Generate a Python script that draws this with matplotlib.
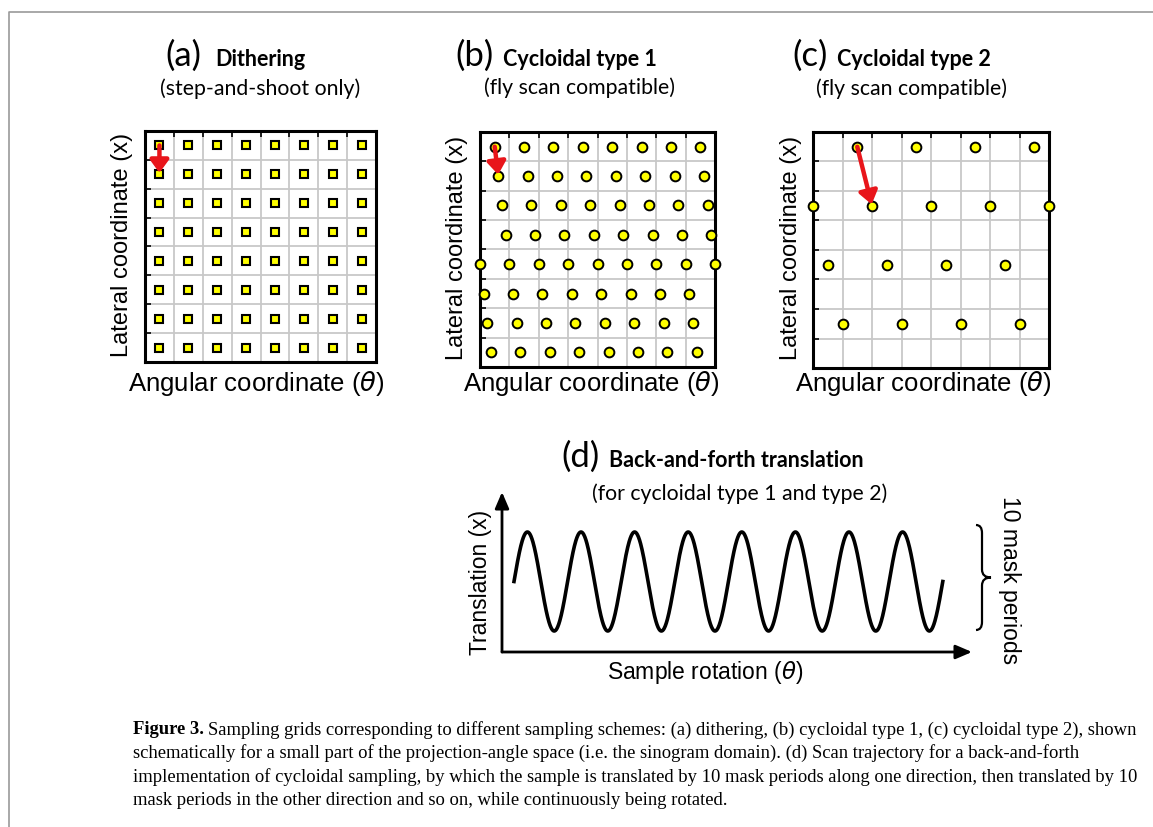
import numpy as np
import matplotlib
matplotlib.use("Agg")
import matplotlib.pyplot as plt
from matplotlib.path import Path
from matplotlib.patches import PathPatch

# ---- data (grid units, 8 x 8 cells) ----
n_cells = 8
dither_x = [0.5, 1.5, 2.5, 3.5, 4.5, 5.5, 6.5, 7.5]
dither_y = [0.5, 1.5, 2.5, 3.5, 4.5, 5.5, 6.5, 7.5]

cyc1_rows = [7.5, 6.5, 5.5, 4.5, 3.5, 2.5, 1.5, 0.5]
cyc1_offsets = [0.5, 0.625, 0.75, 0.875, 0.0, 0.125, 0.25, 0.375]

cyc2_rows = [7.5, 5.5, 3.5, 1.5]
cyc2_offsets = [1.5, 0.0, 0.5, 1.0]
cyc2_step = 2

arrow_a = [(0.5, 7.5), (0.5, 6.5)]
arrow_b = [(0.5, 7.5), (0.625, 6.5)]
arrow_c = [(1.5, 7.5), (2.0, 5.5)]

n_periods = 8          # oscillations drawn in panel (d)
mask_periods = 10

W, H = 1153, 827
fig = plt.figure(figsize=(W / 100, H / 100), dpi=100)
plt.rcParams['font.family'] = ['Liberation Sans', 'DejaVu Sans']

title_font = ['Lato', 'DejaVu Sans']
red = '#e8151b'


def px_axes(left, top, w, h):
    return fig.add_axes([left / W, 1 - (top + h) / H, w / W, h / H])


def grid_panel(ax):
    ax.set_xlim(0, n_cells)
    ax.set_ylim(0, n_cells)
    ax.set_xticks(range(n_cells + 1))
    ax.set_yticks(range(n_cells + 1))
    ax.grid(True, color='#c8c8c8', lw=1.3)
    ax.set_axisbelow(True)
    ax.tick_params(direction='in', length=4, width=1.2, labelleft=False,
                   labelbottom=False, bottom=False, top=True, left=True)
    for s in ax.spines.values():
        s.set_linewidth(2.2)


def red_arrow(ax, pts):
    (x0, y0), (x1, y1) = pts
    ax.annotate('', xy=(x1, y1), xytext=(x0, y0),
                arrowprops=dict(arrowstyle='-|>,head_width=0.4,head_length=0.55',
                                color=red, lw=3.2, shrinkA=0, shrinkB=1,
                                mutation_scale=14), zorder=5)


# ---- panel (a) ----
axa = px_axes(145, 131, 231, 231)
grid_panel(axa)
xx, yy = np.meshgrid(dither_x, dither_y)
axa.plot(xx.ravel(), yy.ravel(), 's', ms=6.2, mfc='#ffff00', mec='black',
         mew=1.5, zorder=3)
red_arrow(axa, arrow_a)

# ---- panel (b) ----
axb = px_axes(480, 132, 235, 235)
grid_panel(axb)
for y, o in zip(cyc1_rows, cyc1_offsets):
    xs = [o + k for k in range(n_cells + 1) if o + k <= n_cells]
    axb.plot(xs, [y] * len(xs), 'o', ms=7, mfc='#ffff00', mec='black',
             mew=1.4, zorder=3, clip_on=False)
red_arrow(axb, arrow_b)

# ---- panel (c) ----
axc = px_axes(813, 132, 236, 236)
grid_panel(axc)
for y, o in zip(cyc2_rows, cyc2_offsets):
    xs = [o + cyc2_step * k for k in range(n_cells) if o + cyc2_step * k <= n_cells]
    axc.plot(xs, [y] * len(xs), 'o', ms=7, mfc='#ffff00', mec='black',
             mew=1.4, zorder=3, clip_on=False)
red_arrow(axc, arrow_c)

# ---- panel (d) ----
axd = px_axes(502, 492, 470, 160)
axd.axis('off')
t = np.linspace(0, n_periods, 1200)
axd.plot(t, np.sin(2 * np.pi * t), color='black', lw=2.6)
axd.set_xlim(-0.224, 8.545)
axd.set_ylim(-1.424, 1.808)
for tip in [(0, 1), (1, 0)]:
    axd.annotate('', xy=tip, xytext=(0, 0), xycoords='axes fraction',
                 arrowprops=dict(arrowstyle='-|>,head_width=0.3,head_length=0.7',
                                 color='black', lw=2, shrinkA=0, shrinkB=0,
                                 mutation_scale=14))

# ---- overlay in pixel coordinates for texts and decorations ----
ov = fig.add_axes([0, 0, 1, 1], zorder=-1)
ov.set_xlim(0, W)
ov.set_ylim(H, 0)
ov.axis('off')
ov.plot([9, 9, W], [H, 12, 12], color='#9a9a9a', lw=1.2)

# brace
bx, by0, by1 = 976, 525, 630
bm = (by0 + by1) / 2
verts = [(bx, by0), (bx + 6, by0), (bx + 6, by0 + 8),
         (bx + 6, bm - 8),
         (bx + 6, bm), (bx + 15, bm),
         (bx + 6, bm), (bx + 6, bm + 8),
         (bx + 6, by1 - 8),
         (bx + 6, by1), (bx, by1)]
codes = [Path.MOVETO, Path.CURVE3, Path.CURVE3,
         Path.LINETO,
         Path.CURVE3, Path.CURVE3,
         Path.CURVE3, Path.CURVE3,
         Path.LINETO,
         Path.CURVE3, Path.CURVE3]
ov.add_patch(PathPatch(Path(verts, codes), fill=False, lw=1.6, color='black'))


# panel titles
def panel_title(xl, xn, yb, letter, name, sub, xs, ysb):
    ov.text(xl, yb, letter, fontsize=25, family=title_font, va='baseline', ha='left')
    ov.text(xn, yb, name, fontsize=15.5, family=title_font,
            weight='bold', va='baseline', ha='left')
    ov.text(xs, ysb, sub, fontsize=15.3, family=title_font, va='baseline',
            ha='center')


panel_title(165, 215, 66, '(a)', 'Dithering', '(step-and-shoot only)', 260, 95)
panel_title(455, 503, 66, '(b)', 'Cycloidal type 1', '(fly scan compatible)', 579, 94)
panel_title(792, 837, 66, '(c)', 'Cycloidal type 2', '(fly scan compatible)', 912, 95)
panel_title(561, 609, 467, '(d)', 'Back-and-forth translation',
            '(for cycloidal type 1 and type 2)', 740, 500)

for cx in [256, 591, 923]:
    ov.text(cx, 383, r'Angular coordinate ($\theta$)', fontsize=18.5,
            ha='center', va='center')
for cx, cy in [(122, 245), (457, 248), (791, 248)]:
    ov.text(cx, cy, 'Lateral coordinate (x)', fontsize=17, rotation=90,
            ha='center', va='center')

ov.text(481, 582, 'Translation (x)', fontsize=16.5, rotation=90,
        ha='center', va='center')
ov.text(705, 673, r'Sample rotation ($\theta$)', fontsize=16.5,
        ha='center', va='center')
ov.text(1010, 580, f'{mask_periods} mask periods', fontsize=16.5, rotation=-90,
        ha='center', va='center')

# caption
cap_font = ['Liberation Serif', 'DejaVu Serif']
cap_fs = 13.4
cap_lines = [
    'Sampling grids corresponding to different sampling schemes: (a) dithering, '
    '(b) cycloidal type 1, (c) cycloidal type 2), shown',
    'schematically for a small part of the projection-angle space (i.e. the sinogram '
    'domain). (d) Scan trajectory for a back-and-forth',
    'implementation of cycloidal sampling, by which the sample is translated by 10 '
    'mask periods along one direction, then translated by 10',
    'mask periods in the other direction and so on, while continuously being rotated.',
]
fig_lbl = ov.text(133, 730, 'Figure 3.', fontsize=cap_fs, family=cap_font,
                  weight='bold', va='center', ha='left')
r = fig.canvas.get_renderer()
bb = fig_lbl.get_window_extent(renderer=r)
x_after = 133 + bb.width + 4
ov.text(x_after, 730, cap_lines[0], fontsize=cap_fs, family=cap_font,
        va='center', ha='left')
for i, line in enumerate(cap_lines[1:]):
    ov.text(133, 753.5 + 23.5 * i, line, fontsize=cap_fs, family=cap_font,
            va='center', ha='left')

fig.savefig('out.png', dpi=100)
